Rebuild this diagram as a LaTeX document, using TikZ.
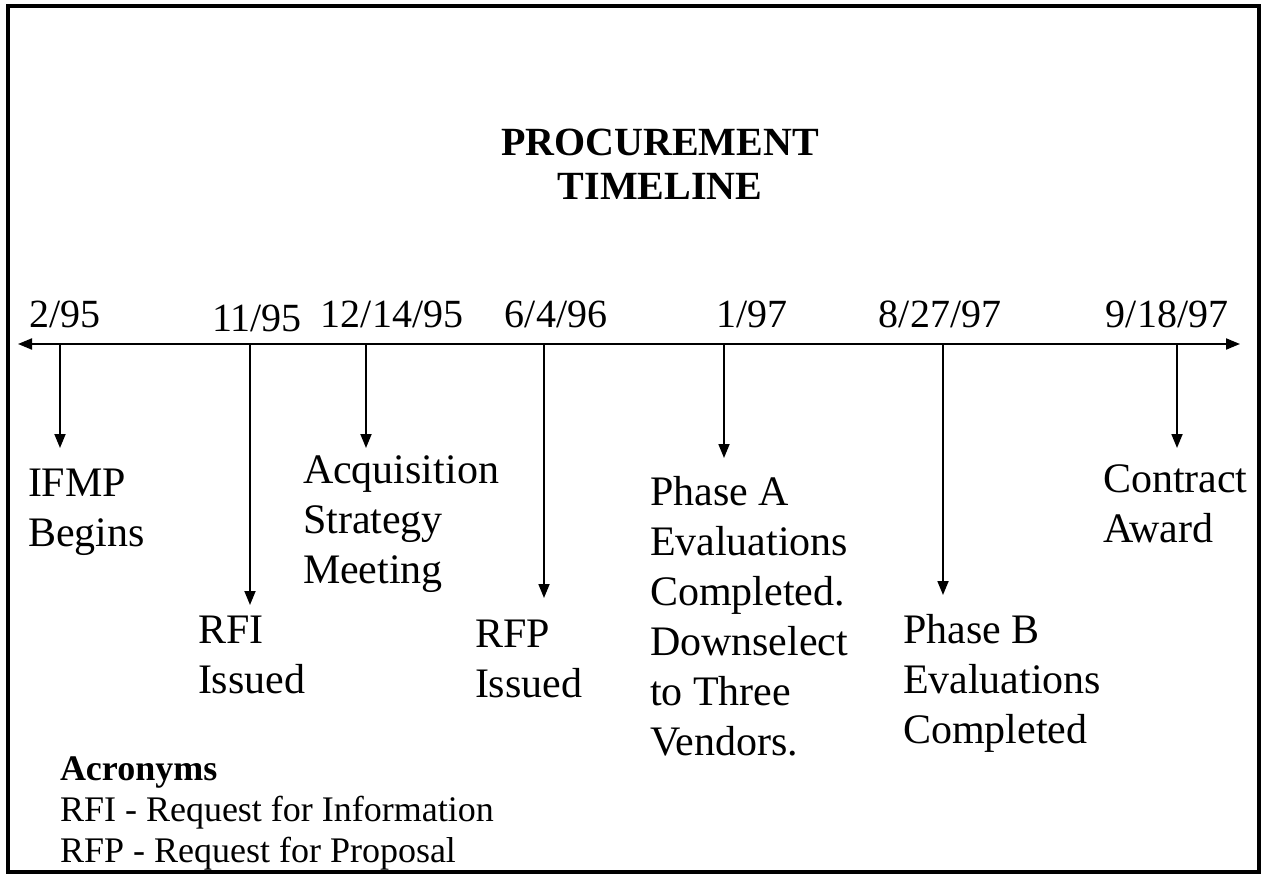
\documentclass[tikz,border=0pt]{standalone}
\usepackage{fontspec}
\setmainfont{Liberation Serif}
\usetikzlibrary{arrows.meta}

\begin{document}
\begin{tikzpicture}[x=1pt, y=-1pt]
 \tikzstyle{every node}=[inner sep=0pt, outer sep=0pt]
 \tikzstyle{date}=[anchor=base, font=\fontsize{40}{48}\selectfont]
 % multi-line labels: placed at the baseline of their last line
 \tikzstyle{event}=[anchor=base west, align=left,
                    font=\fontsize{42}{50}\selectfont]
 \tikzstyle{tick}=[-{Triangle[length=14pt, width=11pt]}, line width=1.8pt]

        \useasboundingbox (0,0) rectangle (1263,874);
        \draw[line width=4pt] (8,6) rectangle (1259,872);

        \node[anchor=base, align=center,
              font=\bfseries\fontsize{40}{44}\selectfont] (title) at (660,200)
              {PROCUREMENT\\TIMELINE};

        % the time axis
        \coordinate (L) at (18,344);
        \coordinate (R) at (1240,344);
        \draw[{Triangle[length=14pt, width=11pt]}-{Triangle[length=14pt, width=11pt]},
              line width=2pt] (L) -- (R);

        \node[date] (d1) at (65,328) {2/95};
        \node[date] (d2) at (257,332) {11/95};
        \node[date] (d3) at (392,328) {12/14/95};
        \node[date] (d4) at (556,328) {6/4/96};
        \node[date] (d5) at (752,328) {1/97};
        \node[date] (d6) at (940,328) {8/27/97};
        \node[date] (d7) at (1167,328) {9/18/97};

        \coordinate (a1) at (60,344);   \coordinate (b1) at (60,448);
        \coordinate (a2) at (250,344);  \coordinate (b2) at (250,605);
        \coordinate (a3) at (366,344);  \coordinate (b3) at (366,448);
        \coordinate (a4) at (544,344);  \coordinate (b4) at (544,598);
        \coordinate (a5) at (724,344);  \coordinate (b5) at (724,458);
        \coordinate (a6) at (943,344);  \coordinate (b6) at (943,595);
        \coordinate (a7) at (1177,344); \coordinate (b7) at (1177,448);

        \path[tick]
    (a1) edge (b1)
    (a2) edge (b2)
    (a3) edge (b3)
    (a4) edge (b4)
    (a5) edge (b5)
    (a6) edge (b6)
    (a7) edge (b7);

        \node[event] (e1) at (28,546) {IFMP\\Begins};
        \node[event] (e2) at (198,693) {RFI\\Issued};
        \node[event] (e3) at (303,583) {Acquisition\\Strategy\\Meeting};
        \node[event] (e4) at (475,697) {RFP\\Issued};
        \node[event] (e5) at (650,755)
              {Phase A\\Evaluations\\Completed.\\Downselect\\to Three\\Vendors.};
        \node[event] (e6) at (903,743) {Phase B\\Evaluations\\Completed};
        \node[event] (e7) at (1103,542) {Contract\\Award};

        % legend
        \node[anchor=base west, align=left,
              font=\fontsize{36}{41}\selectfont] (acr) at (60,862)
              {\textbf{Acronyms}\\RFI - Request for Information\\RFP - Request for Proposal};

\end{tikzpicture}
\end{document}
